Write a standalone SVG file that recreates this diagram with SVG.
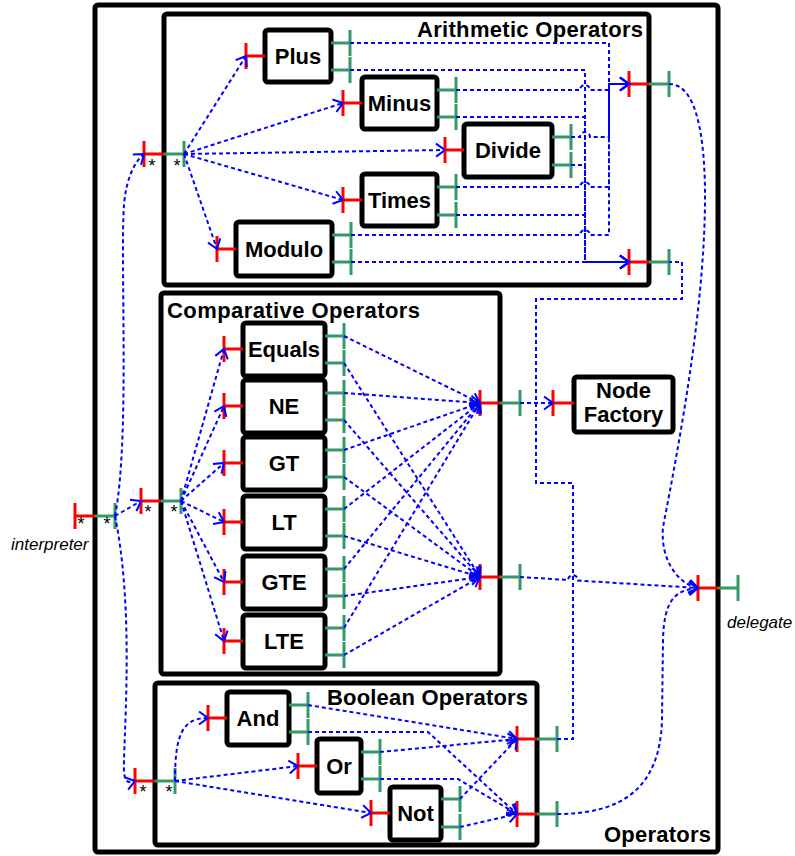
<svg xmlns="http://www.w3.org/2000/svg" width="795" height="856" viewBox="0 0 795 856">
<style>
.grp{fill:none;stroke:#000;stroke-width:5}
.box{fill:#fff;stroke:#000;stroke-width:5}
.lbl{font-family:"Liberation Sans",Arial,sans-serif;font-weight:bold;font-size:22px;fill:#000}
.nl{font-family:"Liberation Sans",Arial,sans-serif;font-weight:bold;font-size:22px;fill:#000;text-anchor:middle}
.it{font-family:"Liberation Sans",Arial,sans-serif;font-style:italic;font-size:17px;fill:#000}
.st{font-family:"Liberation Sans",Arial,sans-serif;font-size:18px;fill:#000;text-anchor:middle}
.r{fill:none;stroke:#f00;stroke-width:3}
.g{fill:none;stroke:#339966;stroke-width:3}
.c{fill:none;stroke:#00f;stroke-width:2;stroke-dasharray:4 3}
.a{marker-end:url(#arr)}
</style>
<defs>
<marker id="arr" viewBox="-11 -8 13 16" refX="0" refY="0" markerWidth="13" markerHeight="16" markerUnits="userSpaceOnUse" orient="auto">
<path d="M-9,-6.5 L0,0 L-9,6.5" fill="none" stroke="#00f" stroke-width="2"/>
</marker>
</defs>
<rect x="0" y="0" width="795" height="856" fill="#fff"/>

<g id="operators">
<rect class="grp" x="95" y="5" width="623" height="847" rx="3"/>
<text class="lbl" x="711" y="842" text-anchor="end" textLength="107">Operators</text>
<path class="r" d="M75,503V529M75,516H95"/>
<path class="g" d="M95,516H115M115,503V529"/>
<text class="st" x="81" y="530">*</text>
<text class="st" x="107" y="530">*</text>
<text class="it" x="11" y="550">interpreter</text>
<path class="r" d="M698,575V601M698,588H718"/>
<path class="g" d="M718,588H738M738,575V601"/>
<text class="it" x="727" y="628">delegate</text>
</g>

<g id="arithmetic">
<rect class="grp" x="164" y="14" width="485" height="271" rx="3"/>
<text class="lbl" x="643" y="37" text-anchor="end" textLength="226">Arithmetic Operators</text>
<path class="r" d="M144,141V167M144,154H164"/>
<path class="g" d="M164,154H184M184,141V167"/>
<text class="st" x="152" y="172">*</text>
<text class="st" x="177" y="172">*</text>
<path class="r" d="M629,71V97M629,84H649M629,249V275M629,262H649"/>
<path class="g" d="M649,84H669M669,71V97M649,262H669M669,249V275"/>
</g>

<g id="plus">
<rect class="box" x="265" y="30" width="66" height="52" rx="3"/>
<text class="nl" x="298" y="64">Plus</text>
<path class="r" d="M246,43V69M246,56H265"/>
<path class="g" d="M331,43H350M350,30V56M331,70H350M350,57V83"/>
</g>
<g id="minus">
<rect class="box" x="362" y="77" width="75" height="52" rx="3"/>
<text class="nl" x="399.5" y="111">Minus</text>
<path class="r" d="M343,90V116M343,103H362"/>
<path class="g" d="M437,90H456M456,77V103M437,117H456M456,104V130"/>
</g>
<g id="divide">
<rect class="box" x="464" y="124" width="88" height="53" rx="3"/>
<text class="nl" x="508" y="158">Divide</text>
<path class="r" d="M445,137V163M445,150H464"/>
<path class="g" d="M552,137H571M571,124V150M552,165H571M571,152V178"/>
</g>
<g id="times">
<rect class="box" x="362" y="174" width="75" height="52" rx="3"/>
<text class="nl" x="399.5" y="208">Times</text>
<path class="r" d="M343,187V213M343,200H362"/>
<path class="g" d="M437,187H456M456,174V200M437,215H456M456,202V228"/>
</g>
<g id="modulo">
<rect class="box" x="236" y="222" width="96" height="54" rx="3"/>
<text class="nl" x="284" y="257">Modulo</text>
<path class="r" d="M217,236V262M217,249H236"/>
<path class="g" d="M332,235H351M351,222V248M332,262H351M351,249V275"/>
</g>

<g id="comparative">
<rect class="grp" x="161" y="293" width="339" height="381" rx="3"/>
<text class="lbl" x="167" y="318" textLength="253">Comparative Operators</text>
<path class="r" d="M141,488V514M141,501H161"/>
<path class="g" d="M161,501H181M181,488V514"/>
<text class="st" x="148" y="518">*</text>
<text class="st" x="174" y="518">*</text>
<path class="r" d="M480,390V416M480,403H500M480,564V590M480,577H500"/>
<path class="g" d="M500,403H520M520,390V416M500,577H520M520,564V590"/>
</g>

<g id="equals">
<rect class="box" x="243" y="323" width="82" height="53" rx="3"/>
<text class="nl" x="284" y="357">Equals</text>
<path class="r" d="M224,336V362M224,349H243"/>
<path class="g" d="M325,336H344M344,323V349M325,363H344M344,350V376"/>
</g>
<g id="ne">
<rect class="box" x="243" y="380" width="82" height="53" rx="3"/>
<text class="nl" x="284" y="414">NE</text>
<path class="r" d="M224,393V419M224,406H243"/>
<path class="g" d="M325,393H344M344,380V406M325,420H344M344,407V433"/>
</g>
<g id="gt">
<rect class="box" x="243" y="437" width="82" height="53" rx="3"/>
<text class="nl" x="284" y="471">GT</text>
<path class="r" d="M224,450V476M224,463H243"/>
<path class="g" d="M325,450H344M344,437V463M325,477H344M344,464V490"/>
</g>
<g id="lt">
<rect class="box" x="243" y="496" width="82" height="53" rx="3"/>
<text class="nl" x="284" y="530">LT</text>
<path class="r" d="M224,509V535M224,522H243"/>
<path class="g" d="M325,509H344M344,496V522M325,536H344M344,523V549"/>
</g>
<g id="gte">
<rect class="box" x="243" y="556" width="82" height="53" rx="3"/>
<text class="nl" x="284" y="590">GTE</text>
<path class="r" d="M224,569V595M224,582H243"/>
<path class="g" d="M325,569H344M344,556V582M325,596H344M344,583V609"/>
</g>
<g id="lte">
<rect class="box" x="243" y="615" width="82" height="53" rx="3"/>
<text class="nl" x="284" y="649">LTE</text>
<path class="r" d="M224,628V654M224,641H243"/>
<path class="g" d="M325,628H344M344,615V641M325,655H344M344,642V668"/>
</g>

<g id="nodefactory">
<rect class="box" x="574" y="377" width="99" height="55" rx="3"/>
<text class="nl" x="623.5" y="398">Node</text>
<text class="nl" x="623.5" y="422">Factory</text>
<path class="r" d="M553,390V416M553,403H574"/>
</g>

<g id="boolean">
<rect class="grp" x="155" y="683" width="382" height="162" rx="3"/>
<text class="lbl" x="528" y="705" text-anchor="end" textLength="201">Boolean Operators</text>
<path class="r" d="M135,768V794M135,781H155"/>
<path class="g" d="M155,781H175M175,768V794"/>
<text class="st" x="143" y="798">*</text>
<text class="st" x="169" y="798">*</text>
<path class="r" d="M517,726V752M517,739H537M517,801V827M517,814H537"/>
<path class="g" d="M537,739H557M557,726V752M537,814H557M557,801V827"/>
</g>
<g id="and">
<rect class="box" x="227" y="692" width="62" height="53" rx="3"/>
<text class="nl" x="258" y="726">And</text>
<path class="r" d="M208,705V731M208,718H227"/>
<path class="g" d="M289,705H308M308,692V718M289,732H308M308,719V745"/>
</g>
<g id="or">
<rect class="box" x="317" y="739" width="44" height="54" rx="3"/>
<text class="nl" x="339" y="774">Or</text>
<path class="r" d="M298,753V779M298,766H317"/>
<path class="g" d="M361,752H380M380,739V765M361,779H380M380,766V792"/>
</g>
<g id="not">
<rect class="box" x="390" y="787" width="51" height="53" rx="3"/>
<text class="nl" x="415.5" y="821">Not</text>
<path class="r" d="M371,800V826M371,813H390"/>
<path class="g" d="M441,799H460M460,786V812M441,827H460M460,814V840"/>
</g>

<g id="connectors">
<path class="c a" d="M115,516C130,440 120,260 124,205C126,180 134,162 144,154"/>
<path class="c a" d="M115,516L141,501"/>
<path class="c a" d="M115,516C132,600 126,700 124,760C123,785 128,783 135,781"/>

<path class="c a" d="M184,154L246,56"/>
<path class="c a" d="M184,154L343,103"/>
<path class="c a" d="M184,154L445,150"/>
<path class="c a" d="M184,154L343,200"/>
<path class="c a" d="M184,154L217,249"/>

<path class="c a" d="M350,43H609V84H629"/>
<path class="c a" d="M456,90H580A5,5 0 0 1 590,90H609V84H629"/>
<path class="c a" d="M571,137H580A5,5 0 0 1 590,137H609V84H629"/>
<path class="c a" d="M456,187H580A5,5 0 0 1 590,187H609V84H629"/>
<path class="c a" d="M351,235H580A5,5 0 0 1 590,235H609V84H629"/>
<path class="c a" d="M350,70H585V262H629"/>
<path class="c a" d="M456,117H585V262H629"/>
<path class="c a" d="M571,165H585V262H629"/>
<path class="c a" d="M456,215H585V262H629"/>
<path class="c a" d="M351,262H629"/>

<path class="c a" d="M669,84C692,84 704,120 705,190C706,300 680,440 663,527C660,560 678,584 698,588"/>
<path class="c" d="M557,739H573V483H536V299H682V262H669"/>

<path class="c a" d="M181,501L224,349"/>
<path class="c a" d="M181,501L224,406"/>
<path class="c a" d="M181,501L224,463"/>
<path class="c a" d="M181,501L224,522"/>
<path class="c a" d="M181,501L224,582"/>
<path class="c a" d="M181,501L224,641"/>

<path class="c a" d="M344,336L480,403"/>
<path class="c a" d="M344,393L480,403"/>
<path class="c a" d="M344,450L480,403"/>
<path class="c a" d="M344,509L480,403"/>
<path class="c a" d="M344,569L480,403"/>
<path class="c a" d="M344,628L480,403"/>
<path class="c a" d="M344,363L480,577"/>
<path class="c a" d="M344,420L480,577"/>
<path class="c a" d="M344,477L480,577"/>
<path class="c a" d="M344,536L480,577"/>
<path class="c a" d="M344,596L480,577"/>
<path class="c a" d="M344,655L480,577"/>

<path class="c a" d="M520,403H553"/>
<path class="c a" d="M520,577L568,580A5,5 0 0 1 578,580.6L698,588"/>

<path class="c a" d="M175,781C175,735 182,718 208,718"/>
<path class="c a" d="M175,781L298,766"/>
<path class="c a" d="M175,781L371,813"/>
<path class="c a" d="M308,705L517,739"/>
<path class="c a" d="M380,752L517,739"/>
<path class="c a" d="M460,799L517,739"/>
<path class="c a" d="M308,732H428L517,814"/>
<path class="c a" d="M380,779H458L517,814"/>
<path class="c a" d="M460,827L517,814"/>
<path class="c a" d="M557,814C620,814 660,790 662,720L663,640C664,600 675,590 698,588"/>
</g>
</svg>
